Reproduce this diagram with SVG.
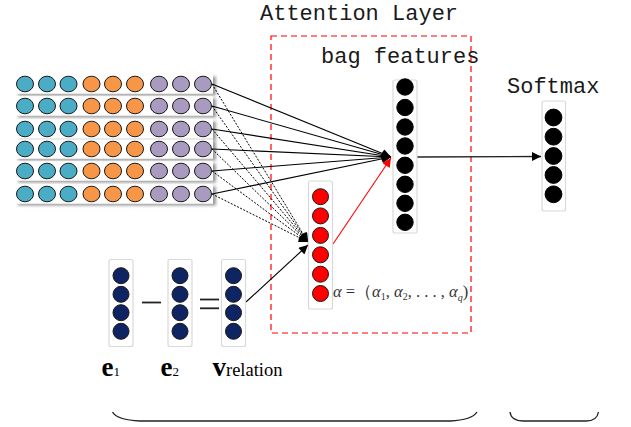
<svg xmlns="http://www.w3.org/2000/svg" width="631" height="427" viewBox="0 0 631 427">
  <defs>
    <style>
      .title { font-family: "Liberation Mono", "DejaVu Sans Mono", monospace; font-size: 22px; fill: #1a1a1a; }
      .row { fill: #ffffff; }
      .col { fill: #ffffff; stroke: #d9d9d9; stroke-width: 1.2; }
      .c { stroke: #1a1a1a; stroke-width: 1; }
      .teal { fill: #4bacc6; }
      .orange { fill: #f79646; }
      .purple { fill: #a99bc0; }
      .navy { fill: #0e2463; }
      .red { fill: #ff0000; }
      .blk { fill: #000000; stroke: #000; }
      .solid { stroke: #000; stroke-width: 1.1; fill: none; }
      .dot { stroke: #000; stroke-width: 1; stroke-dasharray: 2 1.5; fill: none; }
      .lbl { font-family: "Liberation Serif", "Times New Roman", serif; fill: #000; }
      .math { font-family: "Liberation Serif", "Times New Roman", serif; fill: #333; font-size: 16.5px; }
      .brace { stroke: #222; stroke-width: 1.3; fill: none; }
    </style>
    <filter id="shadow" x="-5%" y="-30%" width="115%" height="170%">
      <feGaussianBlur in="SourceAlpha" stdDeviation="1.5"/>
      <feOffset dx="3" dy="2" result="b"/>
      <feComponentTransfer><feFuncA type="linear" slope="0.4"/></feComponentTransfer>
      <feMerge><feMergeNode/><feMergeNode in="SourceGraphic"/></feMerge>
    </filter>
    <marker id="arrow" viewBox="0 0 10 10" refX="10" refY="5" markerWidth="11" markerHeight="9" markerUnits="userSpaceOnUse" orient="auto">
      <path d="M0,0 L10,5 L0,10 z" fill="#000"/>
    </marker>
    <marker id="arrowRed" viewBox="0 0 10 10" refX="10" refY="5" markerWidth="11" markerHeight="9" markerUnits="userSpaceOnUse" orient="auto">
      <path d="M0,0 L10,5 L0,10 z" fill="#ff0000"/>
    </marker>
    <g id="wordRow">
      <rect class="row" x="15" y="-9.5" width="198" height="19"/>
      <ellipse class="c teal" cx="25" cy="0" rx="8.5" ry="7.8"/>
      <ellipse class="c teal" cx="47" cy="0" rx="8.5" ry="7.8"/>
      <ellipse class="c teal" cx="68.5" cy="0" rx="8.5" ry="7.8"/>
      <ellipse class="c orange" cx="91.5" cy="0" rx="8.5" ry="7.8"/>
      <ellipse class="c orange" cx="113" cy="0" rx="8.5" ry="7.8"/>
      <ellipse class="c orange" cx="135" cy="0" rx="8.5" ry="7.8"/>
      <ellipse class="c purple" cx="159" cy="0" rx="8.5" ry="7.8"/>
      <ellipse class="c purple" cx="181" cy="0" rx="8.5" ry="7.8"/>
      <ellipse class="c purple" cx="203" cy="0" rx="8.5" ry="7.8"/>
    </g>
  </defs>

  <rect width="631" height="427" fill="#ffffff"/>

  <!-- attention layer frame -->
  <rect x="271" y="36" width="200" height="297" fill="none" stroke="#ff0000" stroke-width="1.2" stroke-dasharray="6 4"/>

  <!-- titles -->
  <text class="title" x="260" y="20">Attention Layer</text>
  <text class="title" x="321" y="63">bag features</text>
  <text class="title" x="507" y="93">Softmax</text>

  <!-- sentence rows -->
  <g id="sentences" filter="url(#shadow)">
    <use href="#wordRow" y="84"/>
    <use href="#wordRow" y="106"/>
    <use href="#wordRow" y="129"/>
    <use href="#wordRow" y="149"/>
    <use href="#wordRow" y="171"/>
    <use href="#wordRow" y="194"/>
  </g>

  <!-- connectors -->
  <g id="connectors">
    <line class="solid" x1="212" y1="84" x2="391" y2="157" marker-end="url(#arrow)"/>
    <line class="solid" x1="212" y1="106" x2="391" y2="157" marker-end="url(#arrow)"/>
    <line class="solid" x1="212" y1="129" x2="391" y2="157" marker-end="url(#arrow)"/>
    <line class="solid" x1="212" y1="149" x2="391" y2="157" marker-end="url(#arrow)"/>
    <line class="solid" x1="212" y1="171" x2="391" y2="157" marker-end="url(#arrow)"/>
    <line class="solid" x1="212" y1="194" x2="391" y2="157" marker-end="url(#arrow)"/>
    <line class="dot" x1="212" y1="84" x2="308" y2="242" marker-end="url(#arrow)"/>
    <line class="dot" x1="212" y1="106" x2="308" y2="242" marker-end="url(#arrow)"/>
    <line class="dot" x1="212" y1="129" x2="308" y2="242" marker-end="url(#arrow)"/>
    <line class="dot" x1="212" y1="149" x2="308" y2="242" marker-end="url(#arrow)"/>
    <line class="dot" x1="212" y1="171" x2="308" y2="242" marker-end="url(#arrow)"/>
    <line class="dot" x1="212" y1="194" x2="308" y2="242" marker-end="url(#arrow)"/>
    <line class="solid" x1="246" y1="302" x2="308" y2="245" marker-end="url(#arrow)"/>
    <line x1="333" y1="244" x2="391" y2="158" stroke="#ff0000" stroke-width="1.1" marker-end="url(#arrowRed)"/>
    <line x1="417" y1="157" x2="541" y2="156.5" stroke="#222" stroke-width="1.3" marker-end="url(#arrow)"/>
  </g>

  <!-- attention weights -->
  <g id="alpha">
    <rect class="col" x="308.5" y="181" width="24" height="128" rx="2"/>
    <circle class="c red" cx="320.5" cy="196.7" r="8"/>
    <circle class="c red" cx="320.5" cy="215.9" r="8"/>
    <circle class="c red" cx="320.5" cy="235.4" r="8"/>
    <circle class="c red" cx="320.5" cy="254.8" r="8"/>
    <circle class="c red" cx="320.5" cy="274.2" r="8"/>
    <circle class="c red" cx="320.5" cy="293.5" r="8"/>
    <text class="math" x="333" y="297"><tspan font-style="italic">α</tspan> =（<tspan font-style="italic">α</tspan><tspan font-size="10" dy="3">1</tspan><tspan dy="-3">, </tspan><tspan font-style="italic">α</tspan><tspan font-size="10" dy="3">2</tspan><tspan dy="-3">, . . . , </tspan><tspan font-style="italic">α</tspan><tspan font-size="10" font-style="italic" dy="4">q</tspan><tspan dy="-4">)</tspan></text>
  </g>

  <!-- bag feature vector -->
  <g id="bag">
    <rect class="col" x="393" y="80" width="24" height="153" rx="2"/>
    <circle class="blk" cx="405" cy="87" r="8.2"/>
    <circle class="blk" cx="405" cy="107.5" r="8.2"/>
    <circle class="blk" cx="405" cy="127" r="8.2"/>
    <circle class="blk" cx="405" cy="146" r="8.2"/>
    <circle class="blk" cx="405" cy="165.3" r="8.2"/>
    <circle class="blk" cx="405" cy="184.3" r="8.2"/>
    <circle class="blk" cx="405" cy="203.3" r="8.2"/>
    <circle class="blk" cx="405" cy="222.3" r="8.2"/>
  </g>

  <!-- softmax output -->
  <g id="softmax">
    <rect class="col" x="542" y="101" width="23.5" height="110" rx="2"/>
    <circle class="blk" cx="553.5" cy="117.5" r="8.4"/>
    <circle class="blk" cx="553.5" cy="136.7" r="8.4"/>
    <circle class="blk" cx="553.5" cy="156" r="8.4"/>
    <circle class="blk" cx="553.5" cy="175" r="8.4"/>
    <circle class="blk" cx="553.5" cy="194.3" r="8.4"/>
  </g>

  <!-- entity vectors -->
  <g id="e1">
    <rect class="col" x="109" y="259.5" width="24" height="87" rx="2"/>
    <circle class="c navy" cx="121" cy="275.7" r="8"/>
    <circle class="c navy" cx="121" cy="294.3" r="8"/>
    <circle class="c navy" cx="121" cy="312.7" r="8"/>
    <circle class="c navy" cx="121" cy="331.3" r="8"/>
    <text class="lbl" x="101.5" y="376" font-size="27" font-weight="bold">e<tspan font-size="13" font-weight="normal">1</tspan></text>
  </g>
  <g id="minus">
    <line x1="142" y1="302.5" x2="161" y2="302.5" stroke="#222" stroke-width="1.8"/>
  </g>
  <g id="e2">
    <rect class="col" x="168" y="259.5" width="24" height="87" rx="2"/>
    <circle class="c navy" cx="180" cy="275.7" r="8"/>
    <circle class="c navy" cx="180" cy="294.3" r="8"/>
    <circle class="c navy" cx="180" cy="312.7" r="8"/>
    <circle class="c navy" cx="180" cy="331.3" r="8"/>
    <text class="lbl" x="160.5" y="376" font-size="27" font-weight="bold">e<tspan font-size="13" font-weight="normal">2</tspan></text>
  </g>
  <g id="equals">
    <line x1="200" y1="299.5" x2="219" y2="299.5" stroke="#222" stroke-width="1.8"/>
    <line x1="200" y1="308.3" x2="219" y2="308.3" stroke="#222" stroke-width="1.8"/>
  </g>
  <g id="vrelation">
    <rect class="col" x="221.5" y="259.5" width="24" height="87" rx="2"/>
    <circle class="c navy" cx="233.5" cy="275.7" r="8"/>
    <circle class="c navy" cx="233.5" cy="294.3" r="8"/>
    <circle class="c navy" cx="233.5" cy="312.7" r="8"/>
    <circle class="c navy" cx="233.5" cy="331.3" r="8"/>
    <text class="lbl" x="212.5" y="376" font-size="27" font-weight="bold">v<tspan font-size="18.5" font-weight="normal">relation</tspan></text>
  </g>

  <!-- grouping braces -->
  <path class="brace" d="M112.5,412 Q117,420 140,421 L450,421 Q472,420 477,412"/>
  <path class="brace" d="M510,412 Q511,421 524,421 L586,421 Q597,421 598.5,412"/>
</svg>
